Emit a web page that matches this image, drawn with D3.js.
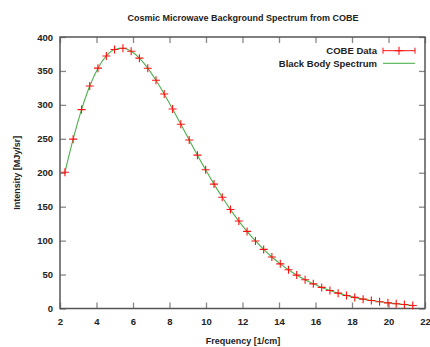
<!DOCTYPE html>
<html>
<head>
<meta charset="utf-8">
<script src="https://cdn.jsdelivr.net/npm/d3@7"></script>
<style>
  body { margin: 0; background: #fff; }
  text { font-family: "Liberation Sans", Arial, sans-serif; font-weight: bold; fill: #222; }
</style>
</head>
<body>
<div id="chart"></div>
<script>
// COBE FIRAS monopole spectrum, frequency in 1/cm, intensity in MJy/sr
const frequency = [2.27, 2.72, 3.18, 3.63, 4.08, 4.54, 4.99, 5.45, 5.90, 6.35,
  6.81, 7.26, 7.71, 8.17, 8.62, 9.08, 9.53, 9.98, 10.44, 10.89,
  11.34, 11.80, 12.25, 12.71, 13.16, 13.61, 14.07, 14.52, 14.97, 15.43,
  15.88, 16.34, 16.79, 17.24, 17.70, 18.15, 18.61, 19.06, 19.51, 19.97,
  20.42, 20.87, 21.33];
const intensity = [200.72, 249.51, 293.02, 327.77, 354.08, 372.08, 381.49, 383.48, 378.90, 368.83,
  354.06, 336.28, 316.08, 293.92, 271.43, 248.24, 225.94, 204.33, 183.26, 163.83,
  145.75, 128.84, 113.57, 99.45, 87.04, 75.88, 65.77, 57.01, 49.22, 42.27,
  36.35, 31.06, 26.58, 22.64, 19.26, 16.39, 13.81, 11.72, 9.92, 8.36,
  7.09, 5.80, 4.52];
const xTicks = [2, 4, 6, 8, 10, 12, 14, 16, 18, 20, 22];
const yTicks = [0, 50, 100, 150, 200, 250, 300, 350, 400];
const seriesNames = ["COBE Data", "Black Body Spectrum"];

const width = 430, height = 347;
const margin = { top: 37, right: 5, bottom: 38.5, left: 60 };
const plotRight = width - margin.right;
const plotBottom = height - margin.bottom;

const points = frequency.map((f, i) => ({ f: f, v: intensity[i] }));

const svg = d3.select("#chart").append("svg")
  .attr("width", width)
  .attr("height", height)
  .style("background-color", "white");

const x = d3.scaleLinear([2, 22], [margin.left, plotRight]);
const y = d3.scaleLinear([0, 400], [plotBottom, margin.top]);

// title
svg.append("text")
  .attr("x", 243).attr("y", 20.5)
  .attr("text-anchor", "middle")
  .style("font-size", "9px")
  .text("Cosmic Microwave Background Spectrum from COBE");

function styleAxis(g) {
  g.select(".domain").remove();
  g.selectAll(".tick line").attr("stroke", "#888").attr("stroke-width", 1.3);
  g.selectAll("text").style("font-size", "9.5px").attr("fill", "#222");
}

svg.append("g")
  .attr("transform", `translate(0,${plotBottom})`)
  .call(d3.axisBottom(x).tickValues(xTicks).tickSizeInner(-6).tickSizeOuter(0).tickPadding(10))
  .call(styleAxis);

svg.append("g")
  .attr("transform", `translate(0,${margin.top})`)
  .call(d3.axisTop(x).tickValues(xTicks).tickSizeInner(-6).tickSizeOuter(0).tickFormat(""))
  .call(styleAxis);

svg.append("g")
  .attr("transform", `translate(${margin.left},0)`)
  .call(d3.axisLeft(y).tickValues(yTicks).tickSizeInner(-6).tickSizeOuter(0).tickPadding(7))
  .call(styleAxis);

svg.append("g")
  .attr("transform", `translate(${plotRight},0)`)
  .call(d3.axisRight(y).tickValues(yTicks).tickSizeInner(-6).tickSizeOuter(0).tickFormat(""))
  .call(styleAxis);

// border
svg.append("rect")
  .attr("x", margin.left).attr("y", margin.top)
  .attr("width", plotRight - margin.left)
  .attr("height", plotBottom - margin.top)
  .attr("fill", "none")
  .attr("stroke", "#555")
  .attr("stroke-width", 1.5);

// axis labels
svg.append("text")
  .attr("x", 243).attr("y", 344)
  .attr("text-anchor", "middle")
  .style("font-size", "9px")
  .text("Frequency [1/cm]");

svg.append("text")
  .attr("transform", `translate(20,${(margin.top + plotBottom) / 2}) rotate(-90)`)
  .attr("text-anchor", "middle")
  .style("font-size", "9px")
  .text("Intensity [MJy/sr]");

// black body curve
const line = d3.line()
  .x(d => x(d.f))
  .y(d => y(d.v))
  .curve(d3.curveMonotoneX);

svg.append("path")
  .datum(points)
  .attr("d", line)
  .attr("fill", "none")
  .attr("stroke", "#4cb04c")
  .attr("stroke-width", 1.1);

// data points
const plus = "M-4,0H4M0,-4V4";
svg.selectAll(".pt")
  .data(points)
  .enter().append("path")
  .attr("class", "pt")
  .attr("transform", d => `translate(${x(d.f)},${y(d.v)})`)
  .attr("d", plus)
  .attr("stroke", "#ff1010")
  .attr("stroke-width", 1.1)
  .attr("fill", "none");

// legend
const legend = svg.append("g");
legend.selectAll("text")
  .data(seriesNames)
  .enter().append("text")
  .attr("x", 377)
  .attr("y", (d, i) => 54 + i * 12.6)
  .attr("text-anchor", "end")
  .style("font-size", "9.5px")
  .text(d => d);

const ly = 50.7;
legend.append("path")
  .attr("d", `M383,${ly}H415M383,${ly - 3}V${ly + 3}M415,${ly - 3}V${ly + 3}`)
  .attr("stroke", "#ff1010").attr("stroke-width", 1).attr("fill", "none");
legend.append("path")
  .attr("transform", `translate(399,${ly})`)
  .attr("d", plus)
  .attr("stroke", "#ff1010").attr("stroke-width", 1.1).attr("fill", "none");
legend.append("line")
  .attr("x1", 383).attr("x2", 415)
  .attr("y1", ly + 12.6).attr("y2", ly + 12.6)
  .attr("stroke", "#4cb04c").attr("stroke-width", 1.1);
</script>
</body>
</html>
